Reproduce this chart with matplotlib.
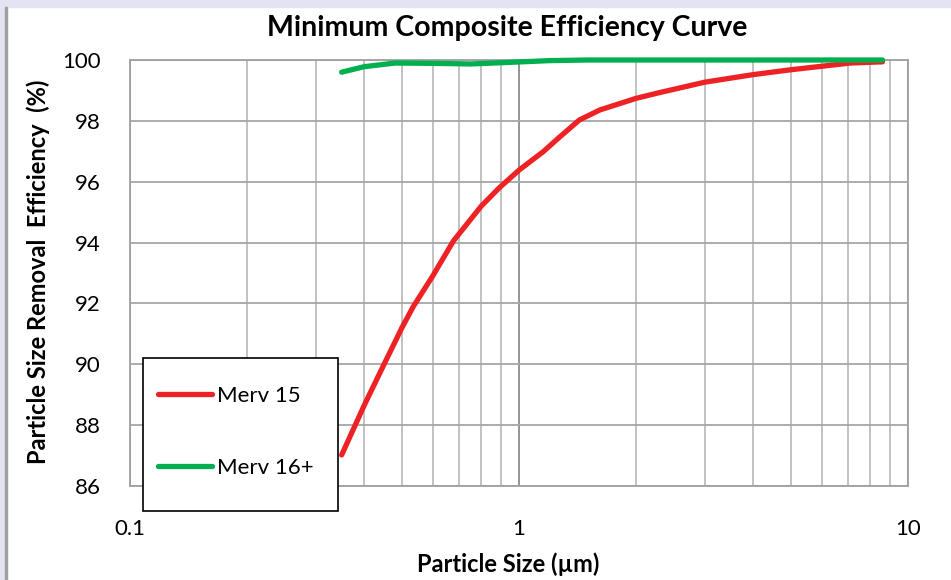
import matplotlib.pyplot as plt
from matplotlib.patches import Rectangle
from matplotlib.ticker import LogLocator, FixedLocator, NullFormatter

plt.rcParams['font.family'] = ['Lato', 'DejaVu Sans']

# particle size (um) / efficiency (%)
merv15_x = [0.35, 0.40, 0.444, 0.50, 0.535, 0.60, 0.678, 0.80, 0.89, 1.0,
            1.155, 1.275, 1.43, 1.615, 2.0, 2.3, 3.0, 4.0, 5.0, 7.1, 8.6]
merv15_y = [87.02, 88.65, 89.85, 91.2, 91.9, 92.9, 94.05, 95.2, 95.8, 96.38,
            96.99, 97.48, 98.03, 98.36, 98.74, 98.93, 99.27, 99.52, 99.68,
            99.9, 99.94]
merv16_x = [0.35, 0.40, 0.48, 0.60, 0.75, 0.90, 1.2, 1.5, 8.6]
merv16_y = [99.6, 99.78, 99.9, 99.89, 99.87, 99.91, 99.98, 100.0, 100.0]

fig = plt.figure(figsize=(9.51, 5.80), dpi=100)
ax = fig.add_axes([130/951, 1-486/580, 778/951, 426/580])

# window chrome around the chart
fig.patches.append(Rectangle((0, 1-7/580), 1, 7/580, transform=fig.transFigure,
                             color='#e3e3f1', zorder=-5))
fig.patches.append(Rectangle((0, 0), 6/951, 1, transform=fig.transFigure,
                             color='#e3e3f1', zorder=-5))
fig.patches.append(Rectangle((5/951, 0), 2/951, 1-7/580, transform=fig.transFigure,
                             color='#a0a0a0', zorder=-4))

red, = ax.plot(merv15_x, merv15_y, color='#ee2224', lw=3.8, solid_capstyle='round',
               solid_joinstyle='round', clip_on=False, zorder=3)
green, = ax.plot(merv16_x, merv16_y, color='#00b050', lw=3.8, solid_capstyle='round',
                 solid_joinstyle='round', clip_on=False, zorder=4)

ax.set_xscale('log')
ax.set_xlim(0.1, 10)
ax.set_ylim(86, 100)
ax.set_yticks(range(86, 101, 2))
ax.xaxis.set_major_locator(FixedLocator([0.1, 1, 10]))
ax.xaxis.set_minor_locator(LogLocator(base=10, subs=range(2, 10)))
ax.xaxis.set_minor_formatter(NullFormatter())
ax.set_xticklabels(['0.1', '1', '10'])

ax.grid(True, which='major', axis='x', color='#8c8c8c', lw=1.3)
ax.grid(True, which='minor', axis='x', color='#bdbdbd', lw=1.3)
ax.grid(True, which='major', axis='y', color='#a6a6a6', lw=1.3)
ax.tick_params(which='both', length=0)
ax.tick_params(axis='y', labelsize=16, pad=21)
ax.tick_params(axis='x', labelsize=16, pad=24)
for s in ax.spines.values():
    s.set_color('#a0a0a0')
    s.set_linewidth(1.3)

fig.text(507/951, 1-28/580, 'Minimum Composite Efficiency Curve', ha='center',
         va='center', fontsize=20.5, fontweight='bold')
fig.text(38/951, 1-272/580, 'Particle Size Removal  Efficiency  (%)', rotation=90,
         ha='center', va='center', fontsize=17, fontweight='bold')
fig.text(508/951, 1-564/580, 'Particle Size (\u00b5m)', ha='center', va='center',
         fontsize=17, fontweight='bold')

# legend box sits over the bottom-left of the plot and hangs below it
fig.patches.append(Rectangle((143/951, 1-511/580), 195/951, 153/580,
                             transform=fig.transFigure, facecolor='white',
                             edgecolor='black', lw=1.2, zorder=9))
leg = fig.legend([red, green], ['Merv 15', 'Merv 16+'], loc='upper left',
                 bbox_to_anchor=(158/951, 1-386/580), fontsize=16,
                 frameon=False, borderpad=0, labelspacing=2.35,
                 handlelength=2.45, handletextpad=0.2, borderaxespad=0)
leg.set_zorder(10)

fig.savefig('out.png', dpi=100)
